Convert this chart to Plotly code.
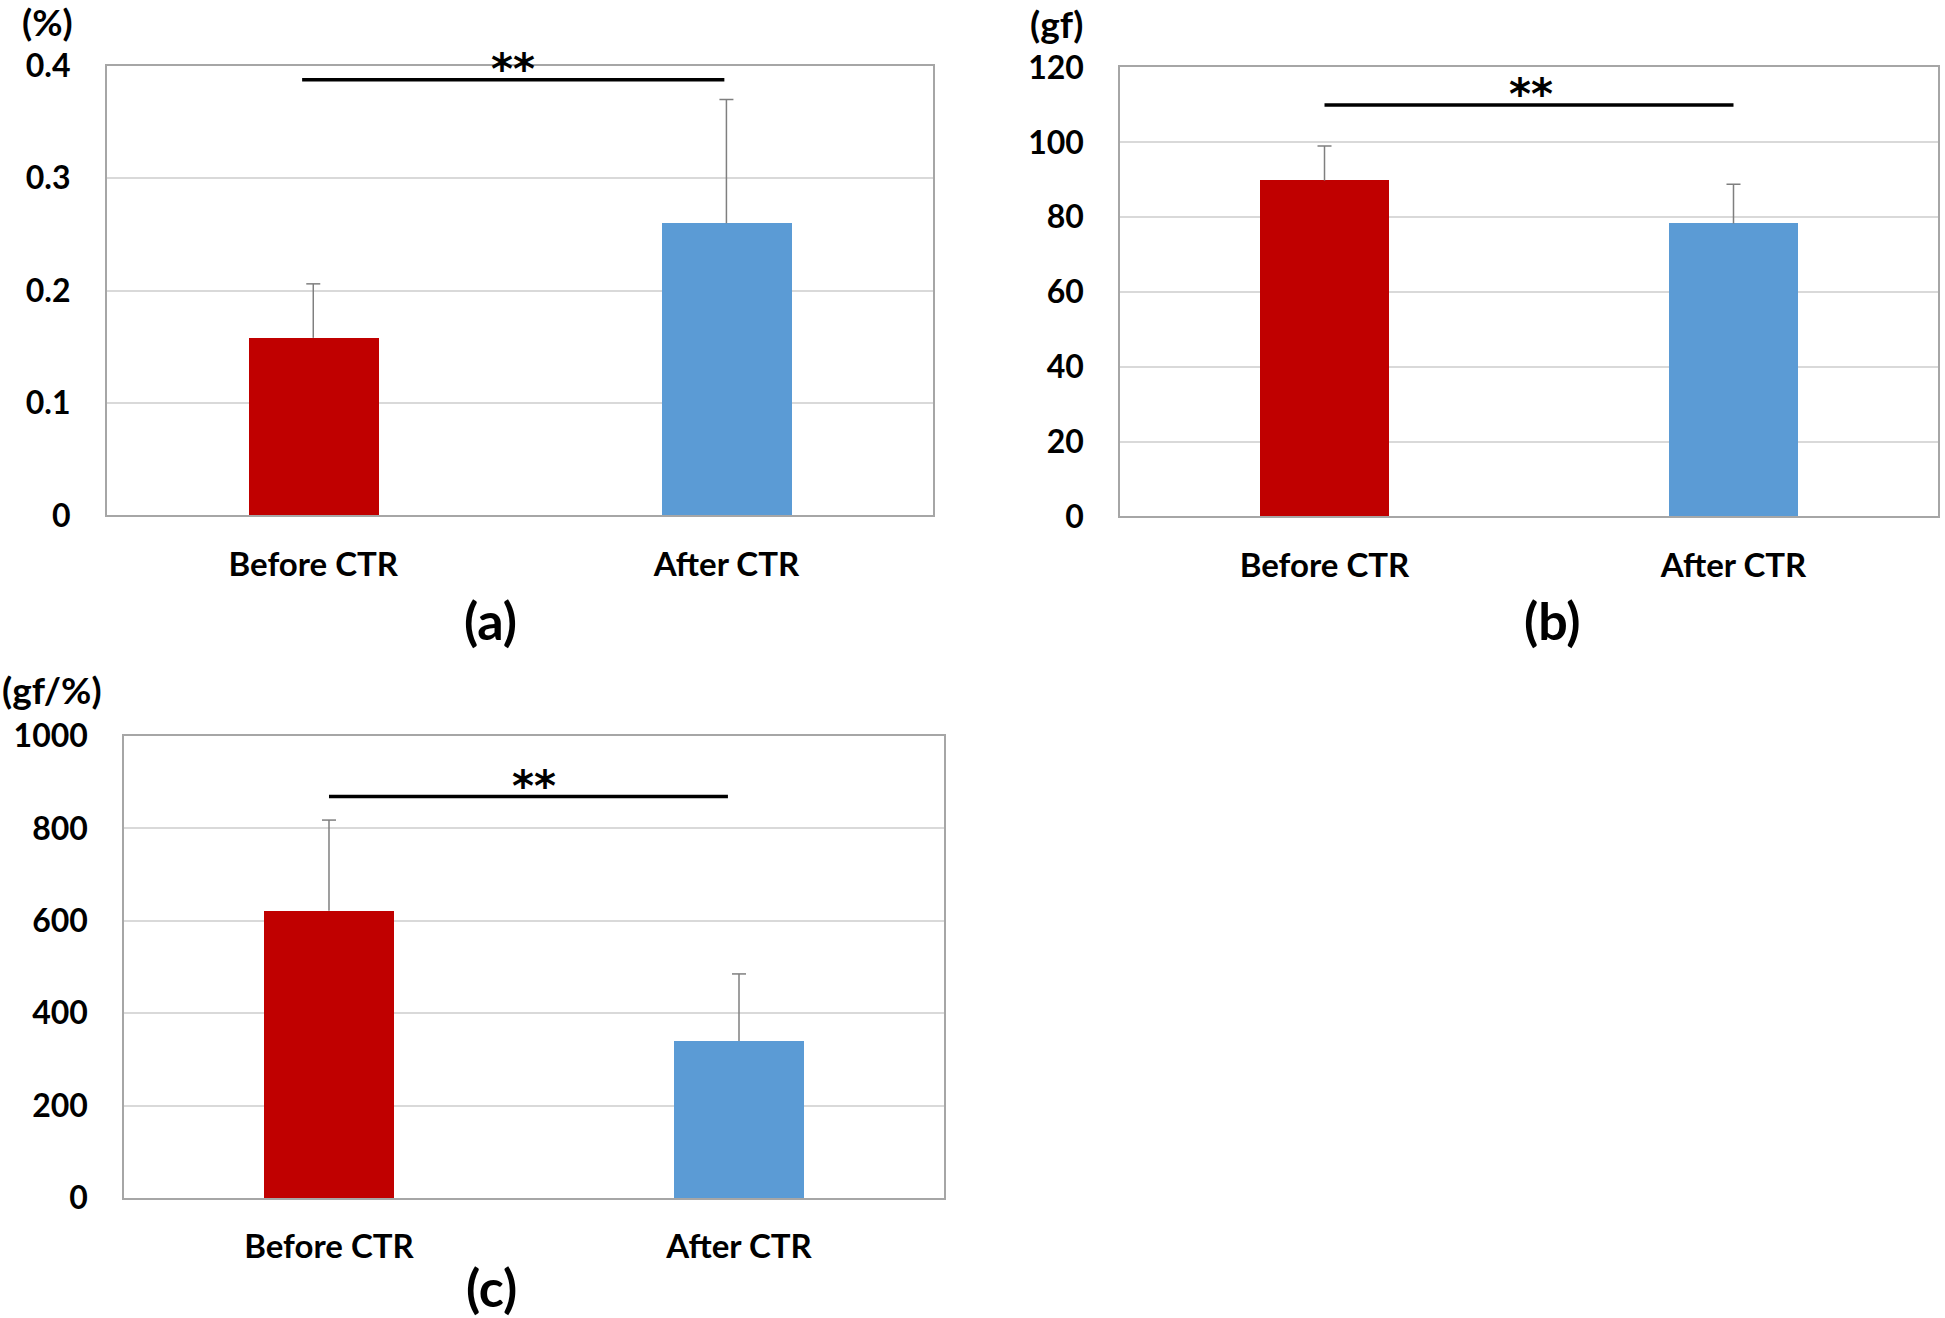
import plotly.graph_objects as go

# ---------------- data ----------------
categories = ["Before CTR", "After CTR"]
bar_colors = ["#C00000", "#5B9BD5"]

# panel (a): strain (%)
a_values = [0.158, 0.260]
a_errors = [0.048, 0.110]
# panel (b): force (gf)
b_values = [89.8, 78.3]
b_errors = [9.2, 10.5]
# panel (c): stiffness (gf/%)
c_values = [622, 340]
c_errors = [196, 145]

a_ticks = [0, 0.1, 0.2, 0.3, 0.4]
a_ticktext = ["0", "0.1", "0.2", "0.3", "0.4"]
b_ticks = [0, 20, 40, 60, 80, 100, 120]
c_ticks = [0, 200, 400, 600, 800, 1000]

units = ["(%)", "(gf)", "(gf/%)"]
panel_labels = ["(a)", "(b)", "(c)"]

# significance brackets: (x0, x1, y) and star x position
sig_a = dict(x0=-0.027, x1=0.995, y=0.3875, sx=0.484)
sig_b = dict(x0=0.0, x1=1.0, y=110, sx=0.506)
sig_c = dict(x0=0.0, x1=0.973, y=869, sx=0.50)

FONT = "Lato"
positions = [0, 1]
W, H = 1945, 1318

fig = go.Figure()

panels = [
    dict(v=a_values, e=a_errors, xa="x", ya="y", xd=[0.05486, 0.47969], yd=[0.60888, 0.95015],
         rng=[0, 0.4], tv=a_ticks, tt=a_ticktext, sig=sig_a),
    dict(v=b_values, e=b_errors, xa="x2", ya="y2", xd=[0.57584, 0.99640], yd=[0.60812, 0.94879],
         rng=[0, 120], tv=b_ticks, tt=[str(t) for t in b_ticks], sig=sig_b),
    dict(v=c_values, e=c_errors, xa="x3", ya="y3", xd=[0.06375, 0.48535], yd=[0.09105, 0.44158],
         rng=[0, 1000], tv=c_ticks, tt=[str(t) for t in c_ticks], sig=sig_c),
]

shapes = []
annotations = []
layout_axes = {}

for i, p in enumerate(panels):
    fig.add_trace(go.Bar(
        x=positions, y=p["v"], width=0.315,
        marker=dict(color=bar_colors, line=dict(width=0)),
        xaxis=p["xa"], yaxis=p["ya"], showlegend=False,
    ))
    # error bars (upper only)
    for xpos, v, e in zip(positions, p["v"], p["e"]):
        shapes.append(dict(type="line", xref=p["xa"], yref=p["ya"], x0=xpos, x1=xpos,
                           y0=v, y1=v + e, line=dict(color="#7F7F7F", width=1.5), layer="above"))
        shapes.append(dict(type="line", xref=p["xa"], yref=p["ya"], xsizemode="pixel", xanchor=xpos,
                           x0=-7, x1=7, y0=v + e, y1=v + e,
                           line=dict(color="#7F7F7F", width=1.5), layer="above"))
    s = p["sig"]
    shapes.append(dict(type="line", xref=p["xa"], yref=p["ya"], x0=s["x0"], x1=s["x1"],
                       y0=s["y"], y1=s["y"], line=dict(color="black", width=3.5), layer="above"))
    annotations.append(dict(text="**", xref=p["xa"], yref=p["ya"], x=s["sx"], y=s["y"],
                            showarrow=False, xanchor="center", yanchor="middle", yshift=10,
                            font=dict(family="DejaVu Sans", size=42, color="black", weight="bold")))

    xname = "xaxis" + ("" if i == 0 else str(i + 1))
    yname = "yaxis" + ("" if i == 0 else str(i + 1))
    layout_axes[xname] = dict(
        domain=p["xd"], anchor=p["ya"], range=[-0.5, 1.5], automargin=False,
        tickvals=positions, ticktext=categories,
        ticks="outside", ticklen=19, tickcolor="rgba(0,0,0,0)",
        showline=True, mirror=True, linecolor="#A6A6A6", linewidth=1.5,
        showgrid=False, zeroline=False, fixedrange=True,
        tickfont=dict(family=FONT, size=33, color="black", weight="bold"),
    )
    layout_axes[yname] = dict(
        domain=p["yd"], anchor=p["xa"], range=p["rng"], automargin=False,
        tickvals=p["tv"], ticktext=p["tt"],
        ticks="outside", ticklen=28, tickcolor="rgba(0,0,0,0)",
        showline=True, mirror=True, linecolor="#A6A6A6", linewidth=1.5,
        showgrid=True, gridcolor="#D9D9D9", gridwidth=1.5, zeroline=False, fixedrange=True,
        tickfont=dict(family=FONT, size=32, color="black", weight="bold"),
    )

# unit labels
unit_pos = [(47, 22), (1056, 24), (52, 689)]
for txt, (px, py) in zip(units, unit_pos):
    annotations.append(dict(text=txt, xref="paper", yref="paper", x=px / W, y=1 - py / H,
                            showarrow=False, xanchor="center", yanchor="middle",
                            font=dict(family=FONT, size=37, color="black", weight="bold")))

# panel letters
letter_pos = [(490, 620), (1552, 620), (491, 1287)]
for txt, (px, py) in zip(panel_labels, letter_pos):
    annotations.append(dict(text=txt, xref="paper", yref="paper", x=px / W, y=1 - py / H,
                            showarrow=False, xanchor="center", yanchor="middle",
                            font=dict(family=FONT, size=52, color="black", weight="bold")))

fig.update_layout(
    width=W, height=H,
    margin=dict(l=0, r=0, t=0, b=0, autoexpand=False),
    paper_bgcolor="white", plot_bgcolor="white",
    shapes=shapes, annotations=annotations,
    bargap=0.0,
    **layout_axes,
)

fig.write_html("out.html", config={"displayModeBar": False},
               post_script="document.body.style.margin='0';")
